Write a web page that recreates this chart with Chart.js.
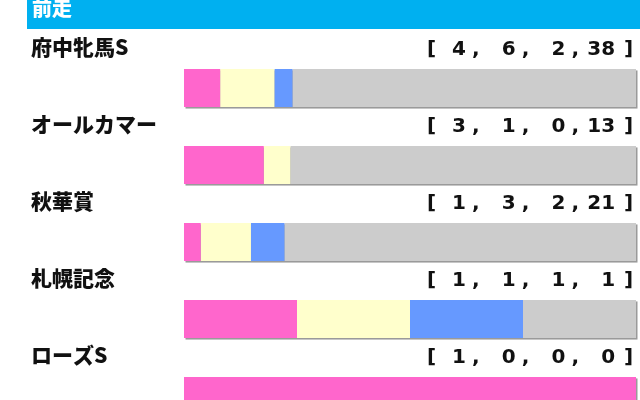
<!DOCTYPE html>
<html>
<head>
<meta charset="utf-8">
<script src="https://cdn.jsdelivr.net/npm/chart.js@4"></script>
<style>
  html, body { margin: 0; padding: 0; background: #fff; overflow: hidden; }
  #wrap { width: 640px; height: 440px; }
</style>
</head>
<body>
<div id="wrap"><canvas id="chart" width="640" height="440"></canvas></div>
<script>
// 前走ごとの成績 [1着, 2着, 3着, 着外]
const title = '前走';
const races = ['府中牝馬S', 'オールカマー', '秋華賞', '札幌記念', 'ローズS'];
const firsts = [4, 3, 1, 1, 1];
const seconds = [6, 1, 3, 1, 0];
const thirds = [2, 0, 2, 1, 0];
const others = [38, 13, 21, 1, 0];

const seriesNames = ['1着', '2着', '3着', '着外'];
const seriesColors = ['#ff66cc', '#ffffcc', '#6699ff', '#cccccc'];
const counts = [firsts, seconds, thirds, others];

const totals = races.map((r, i) => counts.reduce((s, arr) => s + arr[i], 0));
const datasets = counts.map((arr, k) => ({
  label: seriesNames[k],
  data: arr.map((v, i) => v / totals[i] * 100),
  backgroundColor: seriesColors[k],
  borderWidth: 0,
  categoryPercentage: 1,
  barPercentage: 0.495
}));

const decorations = {
  id: 'decorations',
  beforeDatasetsDraw(chart) {
    const { ctx, scales: { x, y } } = chart;
    ctx.save();
    ctx.fillStyle = '#9a9a9a';
    races.forEach((r, i) => {
      const bar = chart.getDatasetMeta(0).data[i];
      const h = bar.height;
      ctx.fillRect(x.getPixelForValue(0) + 1.5, y.getPixelForValue(i) - h / 2 + 1.5, x.getPixelForValue(100) - x.getPixelForValue(0), h);
    });
    ctx.restore();
  },
  afterDraw(chart) {
    const { ctx, scales: { y } } = chart;
    ctx.save();
    // header
    ctx.fillStyle = '#00b0f0';
    ctx.fillRect(27, 0, 613, 29);
    ctx.fillStyle = '#ffffff';
    ctx.font = '900 20px "Noto Sans CJK JP"';
    ctx.textBaseline = 'middle';
    ctx.textAlign = 'left';
    ctx.fillText(title, 32, 8);

    races.forEach((race, i) => {
      const cy = y.getPixelForValue(i);
      ctx.fillStyle = '#111111';
      ctx.font = '900 21px "Noto Sans CJK JP"';
      ctx.textAlign = 'left';
      ctx.fillText(race, 31, cy - 41);

      ctx.font = 'bold 20px "DejaVu Sans"';
      const ty = cy - 38.5;
      ctx.textAlign = 'left';
      ctx.fillText('[', 427, ty);
      counts.forEach((arr, k) => {
        const rx = 466 + 49.7 * k;
        ctx.textAlign = 'right';
        ctx.fillText(String(arr[i]), rx, ty);
        if (k < counts.length - 1) {
          ctx.textAlign = 'left';
          ctx.fillText(',', rx + 6, ty);
        }
      });
      ctx.textAlign = 'left';
      ctx.fillText(']', 624, ty);
    });
    ctx.restore();
  }
};

new Chart(document.getElementById('chart'), {
  type: 'bar',
  data: { labels: races, datasets },
  options: {
    indexAxis: 'y',
    responsive: false,
    animation: false,
    layout: { padding: { left: 184, right: 4, top: 49.5, bottom: 5.5 } },
    plugins: { legend: { display: false }, tooltip: { enabled: false } },
    scales: {
      x: { stacked: true, min: 0, max: 100, display: false },
      y: { stacked: true, display: false }
    }
  },
  plugins: [decorations]
});
</script>
</body>
</html>
